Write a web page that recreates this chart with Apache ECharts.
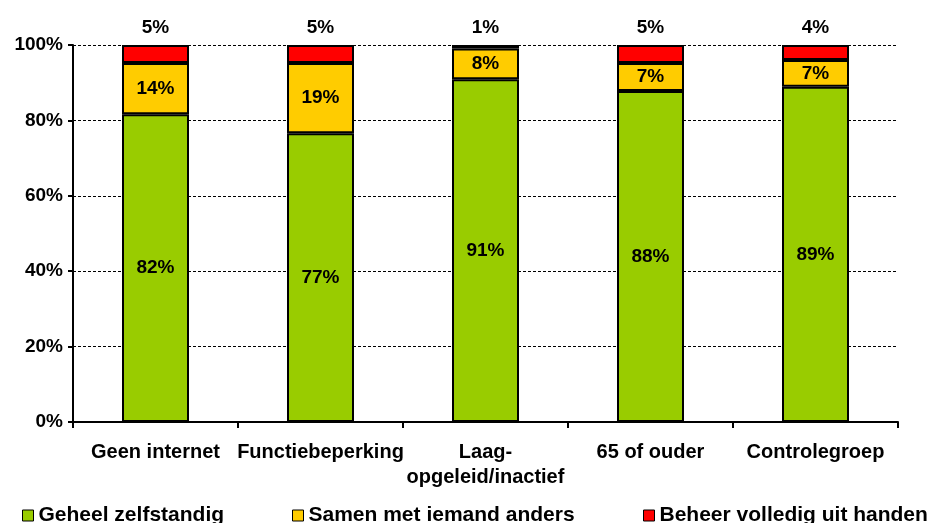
<!DOCTYPE html>
<html><head><meta charset="utf-8">
<script src="https://cdn.jsdelivr.net/npm/echarts@6/dist/echarts.min.js"></script>
<style>html,body{margin:0;padding:0;background:#fff}#c{width:935px;height:523px}</style>
</head><body><div id="c"></div>
<script>
var categories = ['Geen internet', 'Functiebeperking', 'Laag-\nopgeleid/inactief', '65 of ouder', 'Controlegroep'];
var zelfstandig = [81.6, 76.6, 90.9, 87.8, 88.9];
var samen = [13.6, 18.6, 8.2, 7.4, 7.1];
var beheer = [4.8, 4.8, 0.9, 4.8, 4.0];
var yTicks = ['0%', '20%', '40%', '60%', '80%', '100%'];
var seriesNames = ['Geheel zelfstandig', 'Samen met iemand anders', 'Beheer volledig uit handen'];

var FONT = '"Liberation Sans", Arial, sans-serif';
var fmt = function (p) { return Math.round(p.value) + '%'; };
var lbl = { show: true, color: '#000', fontFamily: FONT, fontWeight: 'bold', fontSize: 19, formatter: fmt };

function mkLegend(name, left) {
  return {
    left: left, top: 505, itemWidth: 11, itemHeight: 11, padding: 0,
    icon: 'rect',
    itemStyle: { borderColor: '#000', borderWidth: 1 },
    textStyle: { fontFamily: FONT, fontWeight: 'bold', fontSize: 21, color: '#000', padding: [0, 0, 0, 0] },
    data: [name]
  };
}

var chart = echarts.init(document.getElementById('c'), null, { renderer: 'canvas' });
chart.setOption({
  animation: false,
  grid: { left: 73, right: 37, top: 45, bottom: 101, containLabel: false },
  legend: [mkLegend(seriesNames[0], 22), mkLegend(seriesNames[1], 292), mkLegend(seriesNames[2], 643)],
  xAxis: {
    type: 'category', data: categories,
    axisLine: { lineStyle: { color: '#000', width: 2 } },
    axisTick: { show: true, length: 6, lineStyle: { color: '#000', width: 2 } },
    axisLabel: { color: '#000', fontFamily: FONT, fontWeight: 'bold', fontSize: 20, margin: 18, lineHeight: 25, interval: 0 }
  },
  yAxis: {
    type: 'value', min: 0, max: 100, interval: 20,
    axisLine: { show: true, lineStyle: { color: '#000', width: 2 } },
    axisTick: { show: true, length: 5, lineStyle: { color: '#000', width: 2 } },
    splitLine: { show: true, lineStyle: { color: '#000', width: 1, type: [3, 2] } },
    axisLabel: {
      color: '#000', fontFamily: FONT, fontWeight: 'bold', fontSize: 19, margin: 10,
      formatter: function (v) { return yTicks[v / 20]; }
    }
  },
  series: [
    { name: seriesNames[0], type: 'bar', stack: 't', data: zelfstandig, barWidth: 67,
      itemStyle: { color: '#99CC00', borderColor: '#000', borderWidth: 2 },
      label: Object.assign({ position: 'inside' }, lbl) },
    { name: seriesNames[1], type: 'bar', stack: 't', data: samen,
      itemStyle: { color: '#FFCC00', borderColor: '#000', borderWidth: 2 },
      label: Object.assign({ position: 'inside' }, lbl) },
    { name: seriesNames[2], type: 'bar', stack: 't', data: beheer,
      itemStyle: { color: '#FF0000', borderColor: '#000', borderWidth: 2 },
      label: Object.assign({ position: 'top', distance: 8 }, lbl) }
  ]
});
</script></body></html>
